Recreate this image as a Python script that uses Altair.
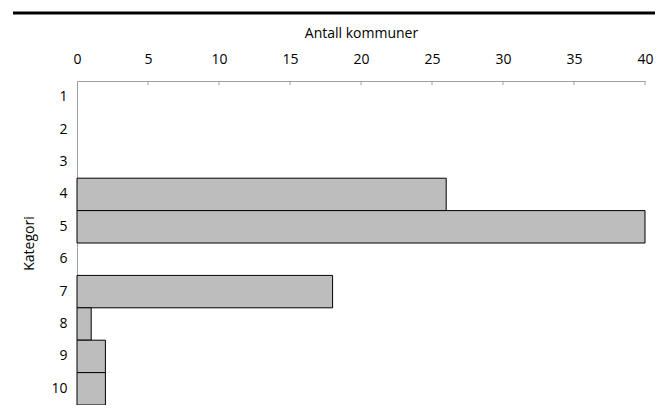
import altair as alt
import pandas as pd

categories = ["1", "2", "3", "4", "5", "6", "7", "8", "9", "10"]
counts = [0, 0, 0, 26, 40, 0, 18, 1, 2, 2]
tick_values = [5, 10, 15, 20, 25, 30, 35, 40]

df = pd.DataFrame({"Kategori": categories, "Antall": counts})
ticks_df = pd.DataFrame({"v": tick_values})

FONT = "Open Sans"

x_scale = alt.Scale(domain=[0, 40], nice=False)
y_scale = alt.Scale(domain=categories, paddingInner=0, paddingOuter=0)

bars = alt.Chart(df).transform_filter("datum.Antall > 0").mark_bar(
    fill="#bdbdbd", stroke="black", strokeWidth=1
).encode(
    x=alt.X("Antall:Q", scale=x_scale,
            axis=alt.Axis(orient="top", title="Antall kommuner", values=[0,5,10,15,20,25,30,35,40],
                          ticks=False, labelPadding=15, titlePadding=12, labelFlush=False,
                          domainColor="#a0a0a0", grid=False)),
    y=alt.Y("Kategori:N", sort=categories, scale=y_scale,
            axis=alt.Axis(title="Kategori", ticks=False, labelPadding=10, titlePadding=14,
                          domainColor="#a0a0a0", labelAngle=0)),
)

inner_ticks = alt.Chart(ticks_df).mark_rule(color="#a0a0a0", strokeWidth=1).encode(
    x=alt.X("v:Q", scale=x_scale),
    y=alt.value(0),
    y2=alt.value(4),
)

top_line = alt.Chart(ticks_df.head(1)).mark_rule(color="black", strokeWidth=3).encode(
    x=alt.value(-64), x2=alt.value(583), y=alt.value(-68)
)

chart = alt.layer(bars, inner_ticks, top_line).properties(
    width=568, height=324,
    autosize=alt.AutoSizeParams(type="none"),
    padding={"left": 69, "top": 73, "right": 10, "bottom": 0},
).configure_view(stroke=None).configure_axis(
    labelFont=FONT, titleFont=FONT, labelFontSize=14, titleFontSize=14,
    labelColor="black", titleColor="black", titleFontWeight="normal",
)

chart.save("out.html", embed_options={"renderer": "svg", "actions": False})
